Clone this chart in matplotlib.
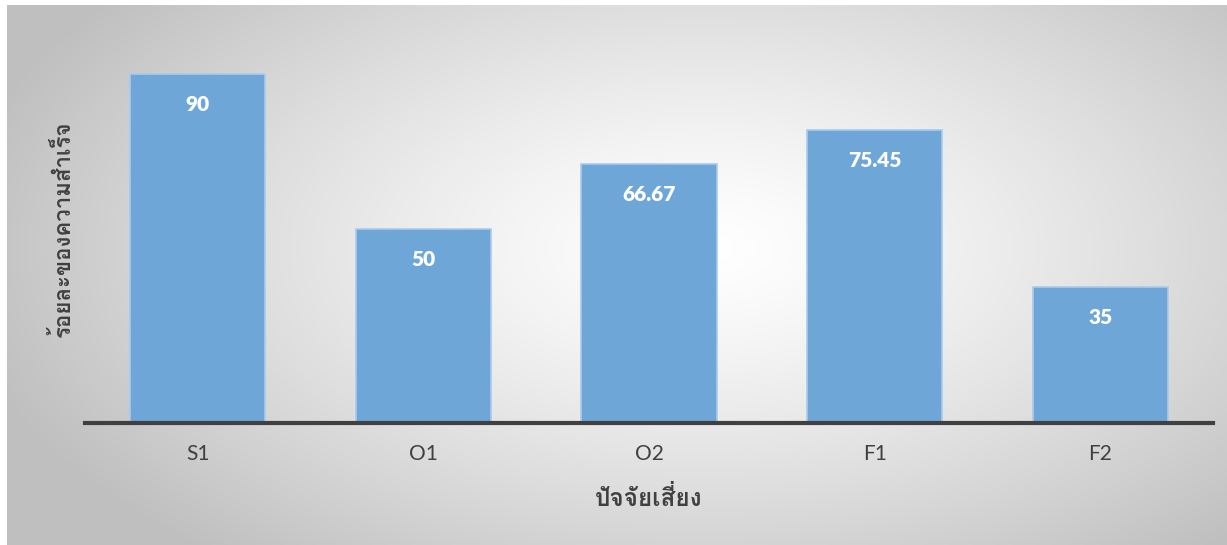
import numpy as np
import matplotlib
matplotlib.use("Agg")
import matplotlib.pyplot as plt
from matplotlib import font_manager
from matplotlib.ft2font import FT2Font

categories = ["S1", "O1", "O2", "F1", "F2"]
values = [90, 50, 66.67, 75.45, 35]
value_labels = ["90", "50", "66.67", "75.45", "35"]
x_title = "ปัจจัยเสี่ยง"
y_title = "ร้อยละของความสำเร็จ"


def find_thai_family():
    # หา font ที่มีตัวอักษรไทย
    for f in font_manager.fontManager.ttflist:
        try:
            cmap = FT2Font(f.fname).get_charmap()
        except Exception:
            continue
        if 0x0E23 in cmap and 0x0E2A in cmap:
            return f.name
    return None


thai = find_thai_family()
base = ["Lato", "DejaVu Sans"]
fam = ([thai] if thai else []) + base
plt.rcParams["font.family"] = base

fig = plt.figure(figsize=(12.27, 5.45), dpi=100)

# พื้นหลังไล่สีแบบวงรี
bg = fig.add_axes([7 / 1227, 0 / 545, 1220 / 1227, 540 / 545], zorder=-10)
gx, gy = np.meshgrid(np.linspace(0, 1, 400), np.linspace(0, 1, 200))
r = np.sqrt(((gx - 0.57) / 0.62) ** 2 + ((gy - 0.55) / 0.75) ** 2)
shade = 1.0 - 0.25 * np.clip(r, 0, 1) ** 1.3
bg.imshow(np.dstack([shade] * 3), aspect="auto", extent=[0, 1, 0, 1], origin="lower")
bg.axis("off")

ax = fig.add_axes([85 / 1227, (545 - 423) / 545, (1213 - 85) / 1227, (423 - 35) / 545])
ax.patch.set_alpha(0)
xpos = np.arange(len(categories))
bars = ax.bar(xpos, values, width=0.6, color="#6fa6d8", edgecolor="#a9cbeb", linewidth=1.2)
ax.set_xlim(-0.5, len(categories) - 0.5)
ax.set_ylim(0, 100)
for b, lab in zip(bars, value_labels):
    ax.annotate(lab, (b.get_x() + b.get_width() / 2, b.get_height()), xytext=(0, -15),
                textcoords="offset points", ha="center", va="top", color="white",
                fontsize=15, fontweight="heavy")

for s in ["top", "right", "left"]:
    ax.spines[s].set_visible(False)
ax.spines["bottom"].set_linewidth(3)
ax.spines["bottom"].set_color("#404040")
ax.set_yticks([])
ax.set_xticks(xpos)
ax.set_xticklabels(categories, fontsize=15, color="#404040")
ax.tick_params(axis="x", length=0, pad=15)
ax.set_xlabel(x_title, fontsize=17.5, fontweight="bold", color="#404040", family=fam, labelpad=16)
ax.set_ylabel(y_title, fontsize=16, fontweight="bold", color="#404040", family=fam, labelpad=8)

fig.savefig("out.png", dpi=100)
